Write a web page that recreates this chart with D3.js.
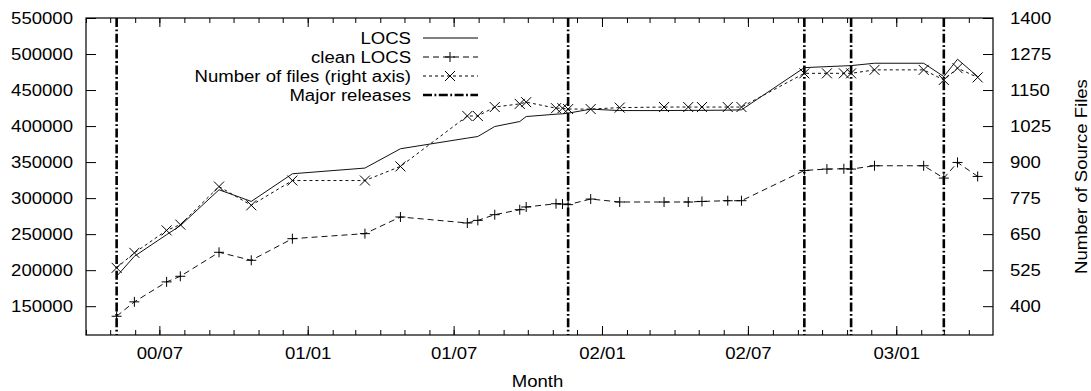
<!DOCTYPE html>
<html>
<head>
<meta charset="utf-8">
<script src="https://cdn.jsdelivr.net/npm/d3@7"></script>
<style>
  body { margin: 0; background: #fff; }
  svg { display: block; font-family: "Liberation Sans", Arial, sans-serif; }
</style>
</head>
<body>
<div id="chart"></div>
<script>
// Sample dates (one per measurement)
const dates = ["2000-05-09", "2000-05-31", "2000-07-10", "2000-07-27", "2000-09-13", "2000-10-23",
  "2000-12-13", "2001-03-13", "2001-04-26", "2001-07-18", "2001-07-31", "2001-08-21",
  "2001-09-21", "2001-09-29", "2001-11-05", "2001-11-13", "2001-11-20", "2001-12-18",
  "2002-01-23", "2002-03-19", "2002-04-18", "2002-05-05", "2002-06-06", "2002-06-23",
  "2002-09-09", "2002-10-07", "2002-10-28", "2002-11-06", "2002-12-05", "2003-02-04",
  "2003-03-01", "2003-03-18", "2003-04-12"];

// LOCS (left axis)
const locs = [191500, 219200, 249300, 261800, 311600, 295400, 333800, 341700, 368500, 383300,
  385500, 399400, 406300, 413200, 416500, 417000, 417900, 423500, 421500, 421500, 421800,
  421800, 422100, 422500, 481100, 482500, 483500, 483900, 487200, 487200, 468700, 492800, 468700];

// clean LOCS (left axis)
const cleanLocs = [136000, 156000, 183700, 191500, 224800, 213700, 243700, 250700, 273800, 265500,
  269100, 277000, 283900, 287700, 292200, 291800, 290900, 298700, 294600, 294600, 294600,
  295400, 296400, 296400, 338400, 340300, 340700, 340300, 344900, 344900, 327800, 349500, 330100];

// Number of files (right axis)
const files = [533, 585, 663, 683, 815, 750, 836, 836, 885, 1060, 1060, 1091, 1102, 1108, 1087,
  1087, 1084, 1084, 1089, 1091, 1091, 1091, 1091, 1091, 1208, 1208, 1208, 1208, 1220, 1220,
  1185, 1226, 1194];

// Major release dates
const releases = ["2000-05-09", "2001-11-20", "2002-09-09", "2002-11-06", "2003-03-01"];

const leftTicks = [150000, 200000, 250000, 300000, 350000, 400000, 450000, 500000, 550000];
const rightTicks = [400, 525, 650, 775, 900, 1025, 1150, 1275, 1400];

const width = 1091, height = 391;
const margin = {top: 18, right: 98, bottom: 56, left: 86};
const sx = 1.16; // the reference text is a bit wider than the font

const parse = d3.timeParse("%Y-%m-%d");
const xDates = dates.map(parse);

const svg = d3.select("#chart").append("svg")
  .attr("width", width)
  .attr("height", height);

const x = d3.scaleTime()
  .domain([new Date(2000, 3, 1), new Date(2003, 4, 1)])
  .range([margin.left, width - margin.right]);

const yL = d3.scaleLinear()
  .domain([110000, 550000])
  .range([height - margin.bottom, margin.top]);

const yR = d3.scaleLinear()
  .domain([300, 1400])
  .range([height - margin.bottom, margin.top]);

// stretch text horizontally around its anchor
function widen(sel) {
  sel.each(function() {
    const t = d3.select(this);
    const tx = +t.attr("x") || 0;
    t.attr("x", tx / sx).attr("transform", `scale(${sx},1)`);
  });
}

const fontSize = 16;
const months = d3.timeMonth.range(x.domain()[0], x.domain()[1]);
const majors = months.filter(d => d.getMonth() === 0 || d.getMonth() === 6);
const fmt = d3.timeFormat("%y/%m");

// minor month ticks (bottom + top)
svg.append("g")
  .attr("transform", `translate(0,${height - margin.bottom})`)
  .call(d3.axisBottom(x).tickValues(months).tickSize(-5).tickFormat(""))
  .call(g => g.select(".domain").remove());
svg.append("g")
  .attr("transform", `translate(0,${margin.top})`)
  .call(d3.axisTop(x).tickValues(months).tickSize(-5).tickFormat(""))
  .call(g => g.select(".domain").remove());

// major ticks with labels
const xAxis = svg.append("g")
  .attr("transform", `translate(0,${height - margin.bottom})`)
  .call(d3.axisBottom(x).tickValues(majors).tickSize(-9).tickPadding(13).tickFormat(fmt))
  .call(g => g.select(".domain").remove());
svg.append("g")
  .attr("transform", `translate(0,${margin.top})`)
  .call(d3.axisTop(x).tickValues(majors).tickSize(-9).tickFormat(""))
  .call(g => g.select(".domain").remove());

const leftAxis = svg.append("g")
  .attr("transform", `translate(${margin.left},0)`)
  .call(d3.axisLeft(yL).tickValues(leftTicks).tickSize(-10).tickPadding(13).tickFormat(d3.format("d")))
  .call(g => g.select(".domain").remove());

const rightAxis = svg.append("g")
  .attr("transform", `translate(${width - margin.right},0)`)
  .call(d3.axisRight(yR).tickValues(rightTicks).tickSize(-10).tickPadding(17).tickFormat(d3.format("d")))
  .call(g => g.select(".domain").remove());

[xAxis, leftAxis, rightAxis].forEach(g => {
  g.selectAll("text")
    .attr("font-size", fontSize)
    .attr("font-family", '"Liberation Sans", Arial, sans-serif')
    .attr("fill", "#000")
    .call(widen);
});
svg.selectAll(".tick line").attr("stroke", "#000");

// frame
svg.append("rect")
  .attr("x", margin.left)
  .attr("y", margin.top)
  .attr("width", width - margin.left - margin.right)
  .attr("height", height - margin.top - margin.bottom)
  .attr("fill", "none")
  .attr("stroke", "#000")
  .attr("stroke-width", 1.2);

// axis titles
svg.append("text")
  .attr("x", ((margin.left + width - margin.right) / 2 - 2) / sx)
  .attr("y", 387)
  .attr("transform", `scale(${sx},1)`)
  .attr("text-anchor", "middle")
  .attr("font-size", fontSize)
  .text("Month");

svg.append("text")
  .attr("transform", `translate(1087,${(margin.top + height - margin.bottom) / 2}) rotate(-90) scale(${sx},1)`)
  .attr("text-anchor", "middle")
  .attr("font-size", fontSize)
  .text("Number of Source Files");

// major release lines
const relStyle = {width: 2.6, dash: "9,2.5,1.8,2.5"};
svg.append("g").selectAll("line")
  .data(releases.map(parse))
  .join("line")
  .attr("x1", d => x(d)).attr("x2", d => x(d))
  .attr("y1", margin.top).attr("y2", height - margin.bottom)
  .attr("stroke", "#000")
  .attr("stroke-width", relStyle.width)
  .attr("stroke-dasharray", relStyle.dash);

const idx = d3.range(dates.length);

// LOCS
svg.append("path")
  .datum(idx)
  .attr("fill", "none")
  .attr("stroke", "#111")
  .attr("stroke-width", 1)
  .attr("d", d3.line().x(i => x(xDates[i])).y(i => yL(locs[i])));

// clean LOCS
svg.append("path")
  .datum(idx)
  .attr("fill", "none")
  .attr("stroke", "#111")
  .attr("stroke-width", 1)
  .attr("stroke-dasharray", "6,4")
  .attr("d", d3.line().x(i => x(xDates[i])).y(i => yL(cleanLocs[i])));

// files
svg.append("path")
  .datum(idx)
  .attr("fill", "none")
  .attr("stroke", "#111")
  .attr("stroke-width", 1)
  .attr("stroke-dasharray", "3,3")
  .attr("d", d3.line().x(i => x(xDates[i])).y(i => yR(files[i])));

function plus(g, cx, cy, s) {
  g.append("path")
    .attr("d", `M${cx - s},${cy}H${cx + s}M${cx},${cy - s}V${cy + s}`)
    .attr("stroke", "#000").attr("stroke-width", 1).attr("fill", "none");
}
function cross(g, cx, cy, s) {
  g.append("path")
    .attr("d", `M${cx - s},${cy - s}L${cx + s},${cy + s}M${cx - s},${cy + s}L${cx + s},${cy - s}`)
    .attr("stroke", "#000").attr("stroke-width", 1).attr("fill", "none");
}

const marks = svg.append("g");
idx.forEach(i => plus(marks, x(xDates[i]), yL(cleanLocs[i]), 5));
idx.forEach(i => cross(marks, x(xDates[i]), yR(files[i]), 5));

// legend
const legend = [
  {label: "LOCS", dash: null, width: 1, mark: null},
  {label: "clean LOCS", dash: "6,4", width: 1, mark: "plus"},
  {label: "Number of files (right axis)", dash: "3,3", width: 1, mark: "cross"},
  {label: "Major releases", dash: relStyle.dash, width: relStyle.width, mark: null}
];
const lg = svg.append("g");
legend.forEach((d, i) => {
  const cy = 38 + i * 19;
  lg.append("text")
    .attr("x", 411 / sx)
    .attr("y", cy)
    .attr("dy", "0.35em")
    .attr("transform", `scale(${sx},1)`)
    .attr("text-anchor", "end")
    .attr("font-size", fontSize)
    .text(d.label);
  lg.append("line")
    .attr("x1", 423).attr("x2", 478)
    .attr("y1", cy).attr("y2", cy)
    .attr("stroke", "#000")
    .attr("stroke-width", d.width)
    .attr("stroke-dasharray", d.dash);
  if (d.mark === "plus") plus(lg, 450, cy, 5);
  if (d.mark === "cross") cross(lg, 450, cy, 5);
});
</script>
</body>
</html>
